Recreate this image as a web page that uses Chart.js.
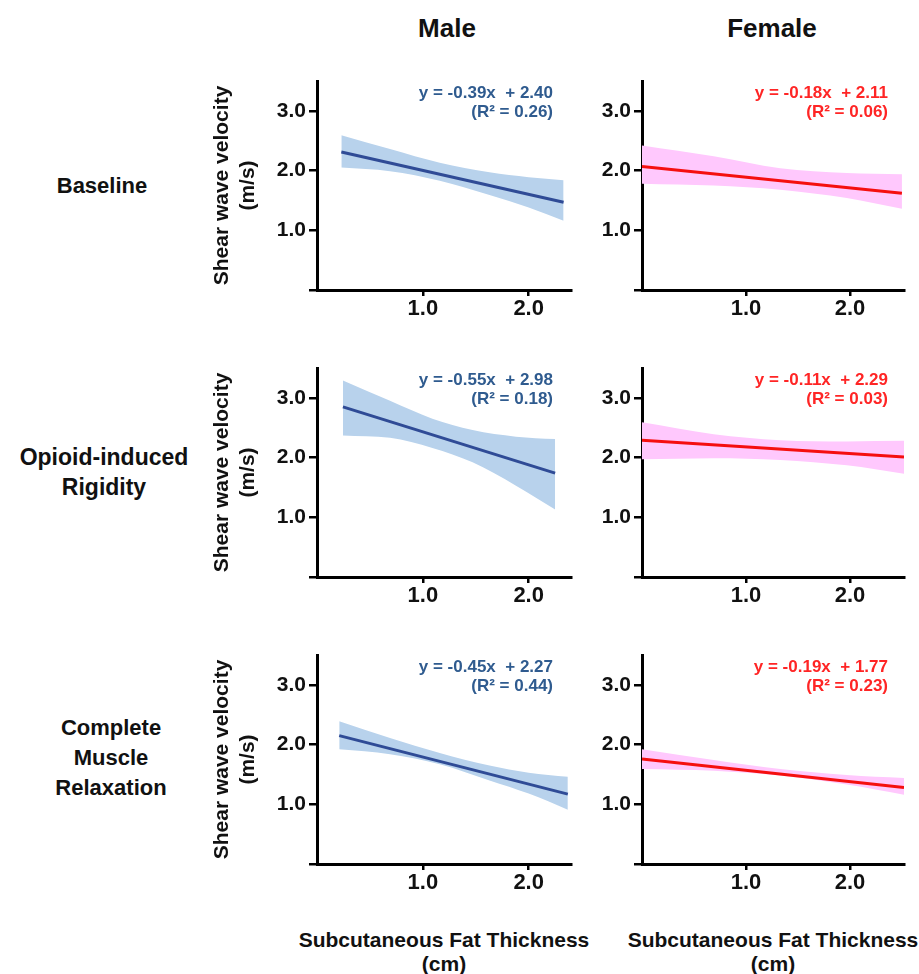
<!DOCTYPE html>
<html>
<head>
<meta charset="utf-8">
<script src="https://cdn.jsdelivr.net/npm/chart.js@4.4.1/dist/chart.umd.min.js"></script>
<style>
  body { margin: 0; width: 919px; height: 974px; overflow: hidden; position: relative; background: #fff;
         font-family: "Liberation Sans", Arial, sans-serif; }
  .lbl { position: absolute; font-weight: bold; color: #111; text-align: center; white-space: nowrap; }
  canvas { position: absolute; }
</style>
</head>
<body>
<div class="lbl" style="left:347px;top:12px;width:200px;font-size:26px;line-height:32px">Male</div>
<div class="lbl" style="left:672px;top:12px;width:200px;font-size:26px;line-height:32px">Female</div>

<div class="lbl" style="left:2px;top:171px;width:200px;font-size:22px;line-height:30px">Baseline</div>
<div class="lbl" style="left:4px;top:442px;width:200px;font-size:23px;line-height:30px">Opioid-induced<br>Rigidity</div>
<div class="lbl" style="left:11px;top:713px;width:200px;font-size:22px;line-height:30px">Complete<br>Muscle<br>Relaxation</div>

<div class="lbl" style="left:244px;top:928px;width:400px;font-size:21px;line-height:24px">Subcutaneous Fat Thickness<br>(cm)</div>
<div class="lbl" style="left:573px;top:928px;width:400px;font-size:21px;line-height:24px">Subcutaneous Fat Thickness<br>(cm)</div>

<canvas id="m0"></canvas><canvas id="f0"></canvas>
<canvas id="m1"></canvas><canvas id="f1"></canvas>
<canvas id="m2"></canvas><canvas id="f2"></canvas>

<script>
// ---- data ----
const xTicks = [1, 2];
const yTicks = [0, 1, 2, 3];

// Male, baseline
const maleBaseX = [0.23, 0.69, 1.16, 1.63, 2.0, 2.33];
const maleBaseUpper = [2.59, 2.36, 2.13, 1.97, 1.89, 1.84];
const maleBaseLower = [2.05, 1.99, 1.83, 1.59, 1.38, 1.16];
const maleBaseFitX = [0.23, 2.33];
const maleBaseFit = [2.31, 1.47];

// Female, baseline
const femBaseX = [0, 0.69, 1.33, 1.97, 2.5];
const femBaseUpper = [2.42, 2.24, 2.04, 1.96, 1.94];
const femBaseLower = [1.78, 1.75, 1.68, 1.54, 1.36];
const femBaseFitX = [0, 2.5];
const femBaseFit = [2.07, 1.62];

// Male, opioid-induced rigidity
const maleOirX = [0.245, 0.69, 1.09, 1.47, 1.88, 2.25];
const maleOirUpper = [3.29, 2.95, 2.65, 2.46, 2.35, 2.31];
const maleOirLower = [2.37, 2.33, 2.16, 1.92, 1.53, 1.13];
const maleOirFitX = [0.245, 2.25];
const maleOirFit = [2.85, 1.74];

// Female, opioid-induced rigidity
const femOirX = [0, 0.69, 1.33, 1.97, 2.52];
const femOirUpper = [2.59, 2.39, 2.29, 2.27, 2.28];
const femOirLower = [1.97, 1.99, 1.96, 1.87, 1.73];
const femOirFitX = [0, 2.52];
const femOirFit = [2.29, 2.01];

// Male, complete muscle relaxation
const maleCmrX = [0.21, 0.69, 1.16, 1.63, 2.0, 2.37];
const maleCmrUpper = [2.39, 2.11, 1.86, 1.65, 1.53, 1.46];
const maleCmrLower = [1.92, 1.84, 1.67, 1.40, 1.18, 0.91];
const maleCmrFitX = [0.21, 2.37];
const maleCmrFit = [2.15, 1.17];

// Female, complete muscle relaxation
const femCmrX = [0, 0.69, 1.33, 1.97, 2.52];
const femCmrUpper = [1.92, 1.74, 1.59, 1.49, 1.44];
const femCmrLower = [1.59, 1.56, 1.48, 1.33, 1.16];
const femCmrFitX = [0, 2.52];
const femCmrFit = [1.76, 1.28];

const maleEq = ["y = -0.39x  + 2.40", "y = -0.55x  + 2.98", "y = -0.45x  + 2.27"];
const maleR2 = ["0.26", "0.18", "0.44"];
const femEq = ["y = -0.18x  + 2.11", "y = -0.11x  + 2.29", "y = -0.19x  + 1.77"];
const femR2 = ["0.06", "0.03", "0.23"];

// ---- layout / style ----
const FONT = '"Liberation Sans", Arial, sans-serif';
const rowTop = [81, 368, 655];   // chart-area tops
const AREA_H = 209;
const PAD_T = 16, PAD_R = 15, X_H = 40;
const cols = [
  { axisX: 317, areaW: 254, yW: 117, xMax: 2.4, line: "#2f4b96", band: "#b8d2ec", text: "#2f5b8f", eqInset: 18 },
  { axisX: 642, areaW: 262, yW: 60, xMax: 2.52, line: "#f50f0f", band: "#ffc8fd", text: "#ff2525", eqInset: 16 }
];

const panels = [
  [
    { x: maleBaseX, up: maleBaseUpper, lo: maleBaseLower, fx: maleBaseFitX, fy: maleBaseFit, eq: maleEq[0], r2: maleR2[0] },
    { x: femBaseX, up: femBaseUpper, lo: femBaseLower, fx: femBaseFitX, fy: femBaseFit, eq: femEq[0], r2: femR2[0] }
  ],
  [
    { x: maleOirX, up: maleOirUpper, lo: maleOirLower, fx: maleOirFitX, fy: maleOirFit, eq: maleEq[1], r2: maleR2[1] },
    { x: femOirX, up: femOirUpper, lo: femOirLower, fx: femOirFitX, fy: femOirFit, eq: femEq[1], r2: femR2[1] }
  ],
  [
    { x: maleCmrX, up: maleCmrUpper, lo: maleCmrLower, fx: maleCmrFitX, fy: maleCmrFit, eq: maleEq[2], r2: maleR2[2] },
    { x: femCmrX, up: femCmrUpper, lo: femCmrLower, fx: femCmrFitX, fy: femCmrFit, eq: femEq[2], r2: femR2[2] }
  ]
];

const pts = (xs, ys) => xs.map((x, i) => ({ x: x, y: ys[i] }));

// equation + R² in the top-right corner of the plot area
const eqPlugin = {
  id: "eqText",
  afterDraw(chart, args, o) {
    const { ctx, chartArea } = chart;
    ctx.save();
    ctx.font = "bold 17px " + FONT;
    ctx.fillStyle = o.color;
    ctx.textAlign = "right";
    ctx.textBaseline = "middle";
    ctx.fillText(o.eq, chartArea.right - o.inset, chartArea.top + 12);
    ctx.fillText("(R\u00B2 = " + o.r2 + ")", chartArea.right - o.inset, chartArea.top + 31);
    ctx.restore();
  }
};

function axisCommon(tickLen, fontSize, pad) {
  return {
    type: "linear",
    border: { display: true, color: "#000", width: 3 },
    grid: { display: true, drawOnChartArea: false, drawTicks: true, tickLength: tickLen,
            tickWidth: 2.5, lineWidth: 2.5, tickColor: "#000", color: "#000" },
    ticks: {
      color: "#111",
      padding: pad,
      autoSkip: false,
      maxRotation: 0,
      font: { family: FONT, size: fontSize, weight: "bold" },
      callback: (v) => (v === 0 ? "" : v.toFixed(1))
    }
  };
}

for (let r = 0; r < 3; r++) {
  for (let c = 0; c < 2; c++) {
    const col = cols[c];
    const d = panels[r][c];
    const canvas = document.getElementById((c === 0 ? "m" : "f") + r);
    const w = col.yW + col.areaW + PAD_R;
    const h = PAD_T + AREA_H + X_H;
    canvas.width = w;
    canvas.height = h;
    canvas.style.width = w + "px";
    canvas.style.height = h + "px";
    canvas.style.left = (col.axisX - col.yW) + "px";
    canvas.style.top = (rowTop[r] - PAD_T) + "px";

    const xScale = axisCommon(6, 22, 0);
    xScale.min = 0;
    xScale.max = col.xMax;
    xScale.afterBuildTicks = (s) => { s.ticks = xTicks.map((v) => ({ value: v })); };
    xScale.afterFit = (s) => { s.height = X_H; };

    const yScale = axisCommon(8, 21, 3);
    yScale.min = 0;
    yScale.max = 3.5;
    yScale.afterBuildTicks = (s) => { s.ticks = yTicks.map((v) => ({ value: v })); };
    yScale.afterFit = (s) => { s.width = col.yW; };
    if (c === 0) {
      yScale.title = {
        display: true,
        text: ["Shear wave velocity", "(m/s)"],
        color: "#111",
        font: { family: FONT, size: 21, weight: "bold", lineHeight: 1.24 },
        padding: { top: 9, bottom: 0 }
      };
    }

    new Chart(canvas.getContext("2d"), {
      type: "line",
      data: {
        datasets: [
          {
            label: "fit",
            data: pts(d.fx, d.fy),
            borderColor: col.line,
            borderWidth: 3,
            pointRadius: 0,
            fill: false
          },
          {
            label: "upper",
            data: pts(d.x, d.up),
            borderWidth: 0,
            borderColor: "rgba(0,0,0,0)",
            backgroundColor: col.band,
            pointRadius: 0,
            cubicInterpolationMode: "monotone",
            fill: "+1"
          },
          {
            label: "lower",
            data: pts(d.x, d.lo),
            borderWidth: 0,
            borderColor: "rgba(0,0,0,0)",
            pointRadius: 0,
            cubicInterpolationMode: "monotone",
            fill: false
          }
        ]
      },
      options: {
        responsive: false,
        animation: false,
        layout: { padding: { top: PAD_T, right: PAD_R, bottom: 0, left: 0 } },
        plugins: {
          legend: { display: false },
          tooltip: { enabled: false },
          eqText: { eq: d.eq, r2: d.r2, color: col.text, inset: col.eqInset }
        },
        scales: { x: xScale, y: yScale }
      },
      plugins: [eqPlugin]
    });
  }
}
</script>
</body>
</html>
